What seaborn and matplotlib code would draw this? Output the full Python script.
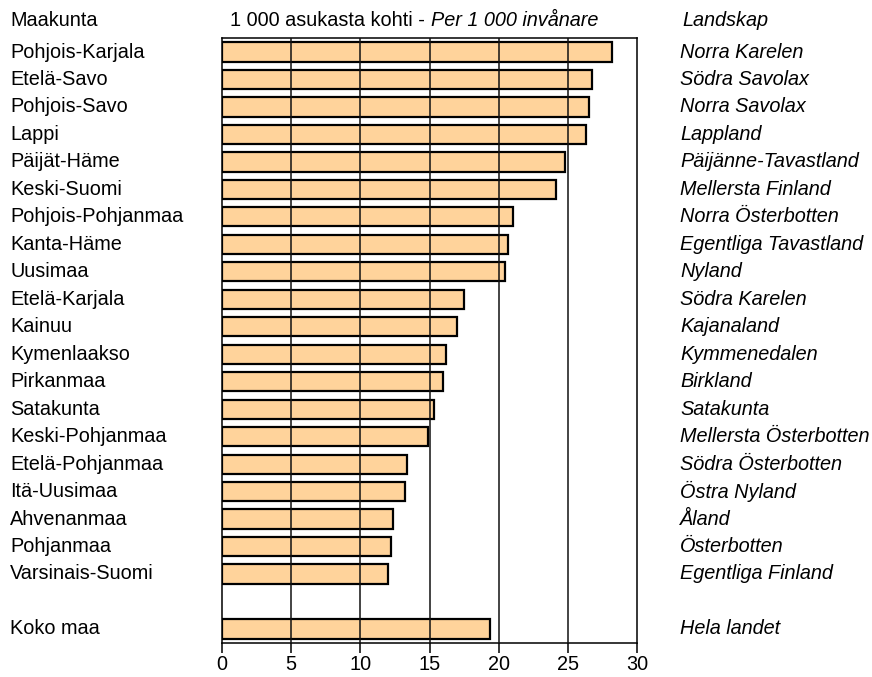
import numpy as np
import pandas as pd
import seaborn as sns
import matplotlib.pyplot as plt
from matplotlib.transforms import blended_transform_factory

# Regions (Finnish), Swedish names and rate per 1 000 inhabitants
maakunta = ['Pohjois-Karjala', 'Etelä-Savo', 'Pohjois-Savo', 'Lappi', 'Päijät-Häme',
            'Keski-Suomi', 'Pohjois-Pohjanmaa', 'Kanta-Häme', 'Uusimaa', 'Etelä-Karjala',
            'Kainuu', 'Kymenlaakso', 'Pirkanmaa', 'Satakunta', 'Keski-Pohjanmaa',
            'Etelä-Pohjanmaa', 'Itä-Uusimaa', 'Ahvenanmaa', 'Pohjanmaa', 'Varsinais-Suomi',
            'Koko maa']
landskap = ['Norra Karelen', 'Södra Savolax', 'Norra Savolax', 'Lappland', 'Päijänne-Tavastland',
            'Mellersta Finland', 'Norra Österbotten', 'Egentliga Tavastland', 'Nyland', 'Södra Karelen',
            'Kajanaland', 'Kymmenedalen', 'Birkland', 'Satakunta', 'Mellersta Österbotten',
            'Södra Österbotten', 'Östra Nyland', 'Åland', 'Österbotten', 'Egentliga Finland',
            'Hela landet']
per_1000 = [28.2, 26.7, 26.5, 26.3, 24.8, 24.1, 21.0, 20.7, 20.45, 17.5,
            17.0, 16.2, 16.0, 15.3, 14.9, 13.4, 13.2, 12.4, 12.2, 12.0,
            19.4]

# row positions, with an empty row before the whole-country total
rows = list(range(20)) + [21]

df = pd.DataFrame({'maakunta': maakunta, 'landskap': landskap,
                   'value': per_1000, 'row': rows})

sns.set_style('white')
plt.rcParams['font.family'] = ['Liberation Sans', 'DejaVu Sans']
plt.rcParams['text.color'] = 'black'
plt.rcParams['xtick.color'] = 'black'
fs = 14.3

fig = plt.figure(figsize=(8.72, 6.77), dpi=100)
ax = fig.add_axes([0.2543, 0.0507, 0.4765, 0.8927])

sns.barplot(data=df, x='value', y='row', orient='h', native_scale=True,
            color='#FFD39B', saturation=1, width=0.7,
            edgecolor='black', linewidth=1.6, ax=ax, zorder=3)

ax.set_xlim(0, 30)
ax.set_ylim(21.5, -0.5)
ax.set_xticks(np.arange(0, 31, 5))
ax.set_yticks([])
ax.set_xlabel('')
ax.set_ylabel('')
for v in range(5, 30, 5):
    ax.axvline(v, color='#111111', lw=1.1, zorder=4)
for s in ax.spines.values():
    s.set_visible(True)
    s.set_color('black')
    s.set_linewidth(1.1)
ax.tick_params(axis='x', direction='out', length=7, width=1.1, color='black',
               labelcolor='black', bottom=True, labelsize=fs, pad=2)

# side labels
tr = blended_transform_factory(fig.transFigure, ax.transData)
for _, r in df.iterrows():
    ax.text(0.0115, r['row'], r['maakunta'], transform=tr, ha='left', va='center',
            fontsize=fs, color='black')
    ax.text(0.780, r['row'], r['landskap'], transform=tr, ha='left', va='center',
            fontsize=fs, style='italic', color='black')

# header row
fig.text(0.0115, 0.970, 'Maakunta', ha='left', va='center', fontsize=fs)
t1 = fig.text(0.264, 0.970, '1 000 asukasta kohti - ', ha='left', va='center', fontsize=fs)
plt.annotate('Per 1 000 invånare', xy=(1, 0.5), xycoords=t1, ha='left', va='center',
             fontsize=fs, style='italic')
fig.text(0.783, 0.970, 'Landskap', ha='left', va='center', fontsize=fs, style='italic')

plt.savefig('out.png', dpi=100)
